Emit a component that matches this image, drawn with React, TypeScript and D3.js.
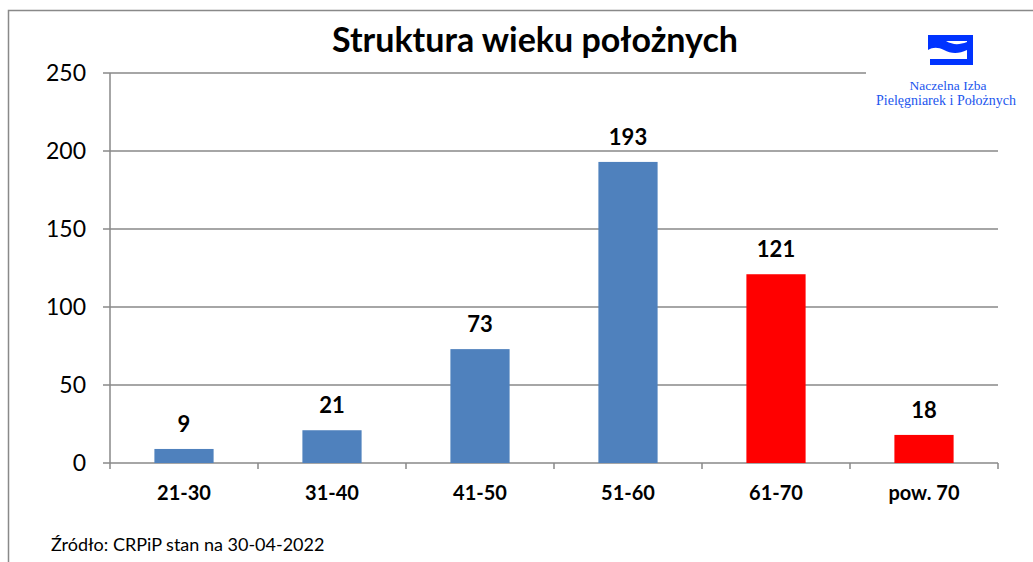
import React from "react";
import * as d3 from "d3";

const categories = ["21-30", "31-40", "41-50", "51-60", "61-70", "pow. 70"];
const values = [9, 21, 73, 193, 121, 18];
const barColors = ["#4f81bd", "#4f81bd", "#4f81bd", "#4f81bd", "#ff0000", "#ff0000"];
const yTicks = [0, 50, 100, 150, 200, 250];
const title = "Struktura wieku położnych";
const source = "Źródło: CRPiP stan na 30-04-2022";
const logoLines = ["Naczelna Izba", "Pielęgniarek i Położnych"];

export default function App() {
  const W = 1033, H = 562;
  const left = 110, right = 998, top = 73, bottom = 463;
  const x = d3.scaleBand<string>().domain(categories).range([left, right]).paddingInner(0).paddingOuter(0);
  const y = d3.scaleLinear().domain([0, 250]).range([bottom, top]);
  const bw = x.bandwidth() * 0.4;
  const font = "Lato, 'Open Sans', sans-serif";
  const grid = "#898989";
  return (
    <svg width={W} height={H} style={{ position: "absolute", left: 0, top: 0 }}>
      <rect x={0} y={0} width={W} height={H} fill="#fff" />
      <path d={`M8.5,${H} V10.5 H${W}`} fill="none" stroke={grid} strokeWidth={1.5} />
      <text x={535} y={52} textAnchor="middle" fontFamily={font} fontWeight="bold" fontSize={34} fill="#000">{title}</text>
      {yTicks.map((t) => (
        <g key={t}>
          <line x1={left - 7} x2={t === 250 ? 870 : right} y1={y(t)} y2={y(t)} stroke={grid} strokeWidth={1.5} />
          <text x={86} y={y(t)} dy="0.36em" textAnchor="end" fontFamily={font} fontSize={23} fill="#000">{t}</text>
        </g>
      ))}
      <line x1={left} x2={left} y1={top} y2={bottom} stroke={grid} strokeWidth={1.5} />
      {d3.range(categories.length + 1).map((i) => {
        const xx = left + i * x.step();
        return <line key={i} x1={xx} x2={xx} y1={bottom} y2={bottom + 6} stroke={grid} strokeWidth={1.5} />;
      })}
      {categories.map((c, i) => {
        const cx = (x(c) as number) + x.bandwidth() / 2;
        return (
          <g key={c}>
            <rect x={cx - bw / 2} y={y(values[i])} width={bw} height={bottom - y(values[i])} fill={barColors[i]} />
            <text x={cx} y={y(values[i]) - 17} textAnchor="middle" fontFamily={font} fontWeight="bold" fontSize={22} fill="#000">{values[i]}</text>
            <text x={cx} y={500} textAnchor="middle" fontFamily={font} fontWeight="bold" fontSize={20} fill="#000">{c}</text>
          </g>
        );
      })}
      <text x={51} y={551} fontFamily={font} fontSize={18} fill="#000">{source}</text>
      <g>
        <rect x={866} y={20} width={167} height={95} fill="#fff" />
        <path d="M928,35 H973 V65 H930 V59 H967 V50 C959,54 951,54 944,50 C938,47 933,47 928,50 V41 C934,37 940,37 946,41 C953,45 959,45 967,42 V41 H928 Z" fill="#0033ff" />
        <text x={948} y={90} textAnchor="middle" fontFamily="'Liberation Serif', serif" fontSize={13.5} fill="#2255ee">{logoLines[0]}</text>
        <text x={946} y={105} textAnchor="middle" fontFamily="'Liberation Serif', serif" fontSize={14} fill="#2255ee">{logoLines[1]}</text>
      </g>
    </svg>
  );
}
